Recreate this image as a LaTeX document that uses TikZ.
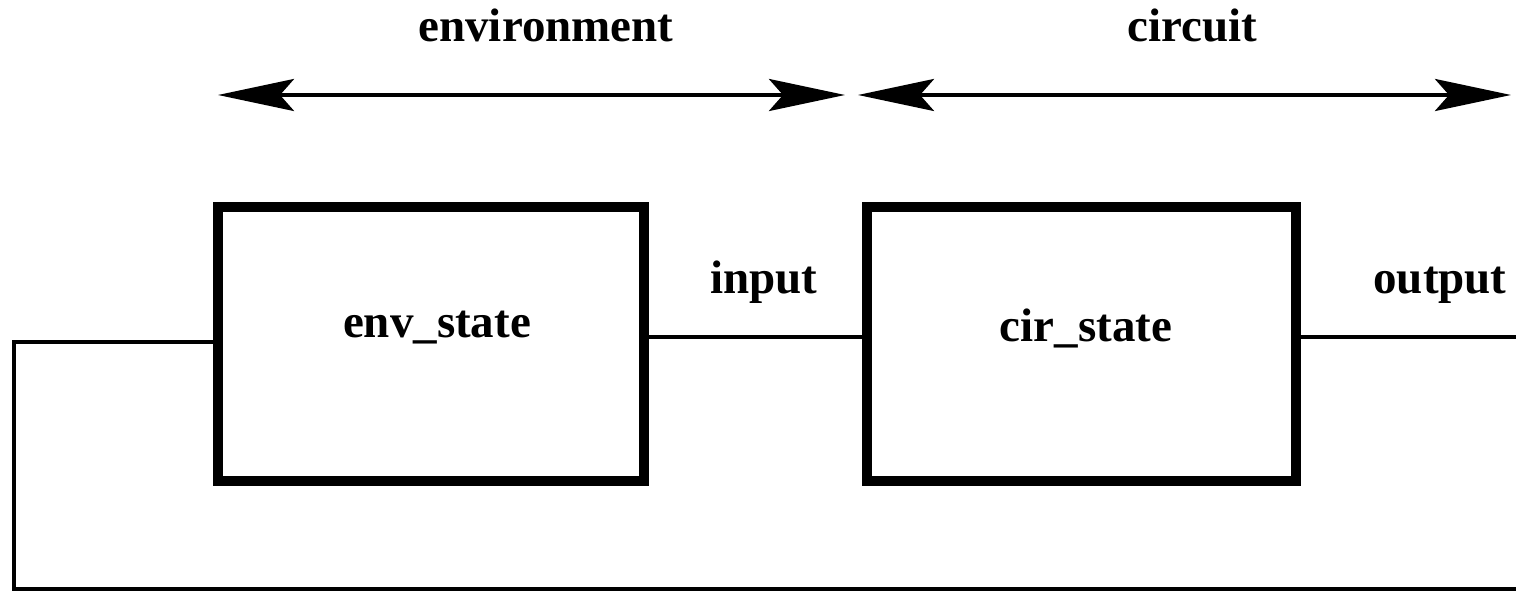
\documentclass[tikz,border=0pt]{standalone}
\usepackage{fontspec}
\setmainfont{Liberation Serif}
\usetikzlibrary{arrows.meta}
\begin{document}
\begin{tikzpicture}[x=0.5pt,y=-0.5pt,
  block/.style={draw,line width=5pt,minimum width=213pt,minimum height=137pt,inner sep=0pt},
  wire/.style={line width=2pt},
  span/.style={line width=2pt,{Stealth[length=38pt,width=16pt,inset=7pt]}-{Stealth[length=38pt,width=16pt,inset=7pt]}},
  lbl/.style={font=\fontsize{23.5pt}{28pt}\selectfont\bfseries,anchor=base,inner sep=0pt}]
\useasboundingbox (0,0) rectangle (1516,592);

% the two blocks
\node[block] (env) at (431,344) {};
\node[block,minimum width=214.5pt] (cir) at (1081.5,344) {};

% block captions
\node[lbl] (envtxt) at (437,338) {env\_state};
\node[lbl] (cirtxt) at (1086,342) {cir\_state};

% signal wires
\coordinate (sigY) at (0,337);
\coordinate (outEnd) at (1516,337);
\draw[wire] (env.east |- sigY) -- (cir.west |- sigY);
\draw[wire] (cir.east |- sigY) -- (outEnd);
\node[lbl] (intxt) at (764,294) {input};
\node[lbl] (outtxt) at (1440,294) {output};

% feedback loop
\coordinate (fbL) at (14,589);
\coordinate (fbR) at (1516,589);
\draw[wire] (env.west |- 0,342) -| (fbL) -- (fbR);

% extent arrows
\coordinate (envA) at (218,95);
\coordinate (envB) at (845,95);
\coordinate (cirA) at (858,95);
\coordinate (cirB) at (1511,95);
\draw[span] (envA) -- (envB);
\draw[span] (cirA) -- (cirB);
\node[lbl] (envlbl) at (546,42) {environment};
\node[lbl] (cirlbl) at (1192,42) {circuit};
\end{tikzpicture}
\end{document}
